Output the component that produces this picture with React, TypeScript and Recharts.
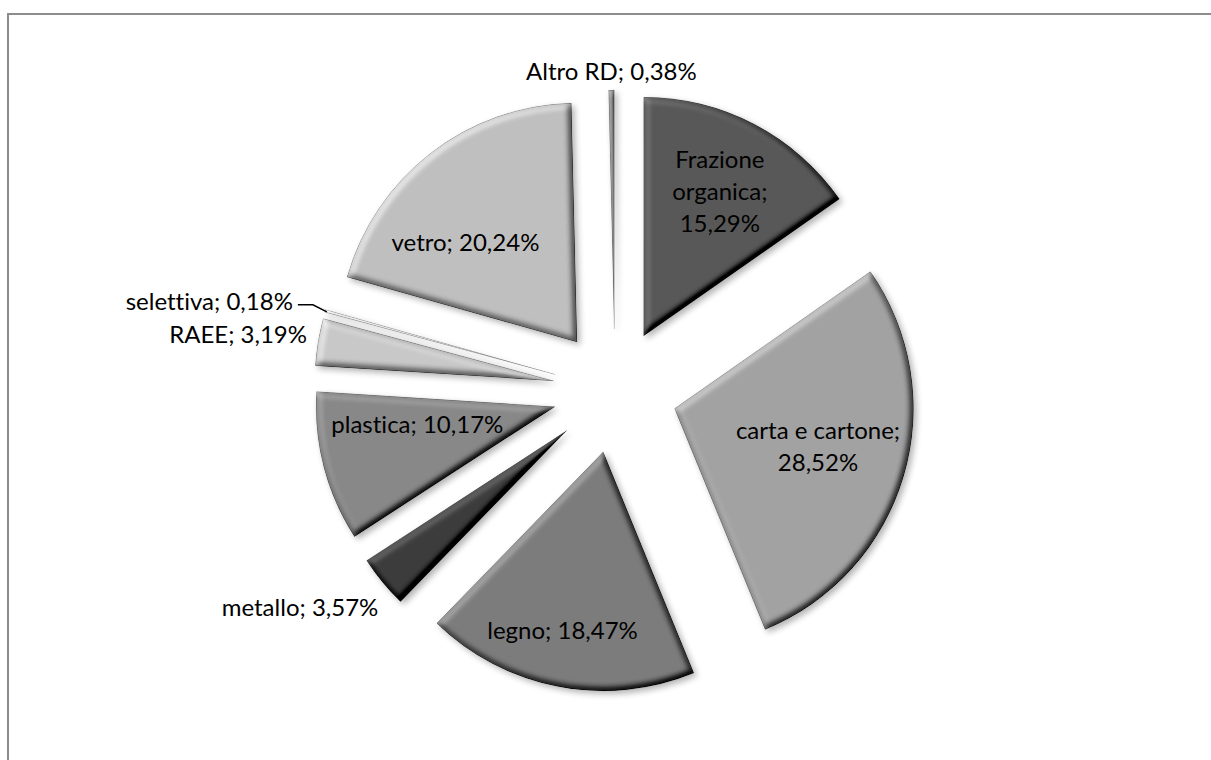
import React from 'react';
import { PieChart, Pie, Cell, Sector } from 'recharts';

// raccolta differenziata, quote per frazione (clockwise from 12 o'clock)
const categories = [
  'Frazione organica',
  'carta e cartone',
  'legno',
  'metallo',
  'plastica',
  'RAEE',
  'selettiva',
  'vetro',
  'Altro RD',
];
const shares = [15.29, 28.52, 18.47, 3.57, 10.17, 3.19, 0.18, 20.24, 0.38];

const data = categories.map((name, i) => ({ name, value: shares[i] }));

const sliceColors = ['#585858', '#a2a2a2', '#7c7c7c', '#3c3c3c', '#888888', '#c8c8c8', '#ededed', '#bfbfbf', '#8e8e8e'];

const EXPLODE = 62;
const RADIAN = Math.PI / 180;
const FONT = 'Lato, "Open Sans", sans-serif';
const FONT_SIZE = 24;
const LINE_H = 32;
const textStyle = { fontVariantLigatures: 'none' } as const;

type Placement =
  | { kind: 'inside'; r: number; turn: number; wrap: 'words' | 'value' | 'none' }
  | { kind: 'outside'; dx: number; dy: number; anchor: 'start' | 'middle' | 'end'; leader?: boolean };

const placements: Record<string, Placement> = {
  'Frazione organica': { kind: 'inside', r: 0.69, turn: 0, wrap: 'words' },
  'carta e cartone': { kind: 'inside', r: 0.62, turn: -2, wrap: 'value' },
  legno: { kind: 'inside', r: 0.76, turn: 2, wrap: 'none' },
  metallo: { kind: 'outside', dx: -4, dy: 24, anchor: 'end' },
  plastica: { kind: 'inside', r: 0.58, turn: 8, wrap: 'none' },
  RAEE: { kind: 'outside', dx: -11, dy: -8, anchor: 'end' },
  selettiva: { kind: 'outside', dx: -32, dy: -10, anchor: 'end', leader: true },
  vetro: { kind: 'inside', r: 0.63, turn: -10, wrap: 'none' },
  'Altro RD': { kind: 'outside', dx: 0, dy: -20, anchor: 'middle' },
};

const fmt = (v: number) => v.toFixed(2).replace('.', ',') + '%';

const offsetOf = (midAngle: number) => ({
  ox: EXPLODE * Math.cos(-midAngle * RADIAN),
  oy: EXPLODE * Math.sin(-midAngle * RADIAN),
});

const ExplodedSector = (props: any) => {
  const { cx, cy, midAngle } = props;
  const { ox, oy } = offsetOf(midAngle);
  return (
    <g filter="url(#bevel)">
      <Sector {...props} cx={cx + ox} cy={cy + oy} />
    </g>
  );
};

const renderLabel = (props: any) => {
  const { cx, cy, midAngle, outerRadius, index } = props;
  const name = categories[index];
  const value = shares[index];
  const p = placements[name];
  const { ox, oy } = offsetOf(midAngle);
  const ax = cx + ox;
  const ay = cy + oy;

  if (p.kind === 'inside') {
    const a = (midAngle - p.turn) * RADIAN;
    const x = ax + p.r * outerRadius * Math.cos(-a);
    const y = ay + p.r * outerRadius * Math.sin(-a);
    let lines: string[];
    if (p.wrap === 'words') lines = [...name.split(' ').map((w, i, arr) => (i === arr.length - 1 ? w + ';' : w)), fmt(value)];
    else if (p.wrap === 'value') lines = [name + ';', fmt(value)];
    else lines = [`${name}; ${fmt(value)}`];
    const y0 = y - ((lines.length - 1) * LINE_H) / 2;
    return (
      <text
        x={x}
        y={y0}
        textAnchor="middle"
        dominantBaseline="central"
        fontFamily={FONT}
        fontSize={FONT_SIZE}
        fill="#000"
        style={textStyle}
      >
        {lines.map((l, i) => (
          <tspan key={i} x={x} y={y0 + i * LINE_H}>
            {l}
          </tspan>
        ))}
      </text>
    );
  }

  const tx = ax + outerRadius * Math.cos(-midAngle * RADIAN);
  const ty = ay + outerRadius * Math.sin(-midAngle * RADIAN);
  return (
    <g>
      {p.leader && (
        <path
          d={`M${tx + 2},${ty + 1} L${tx - 12},${ty - 6} L${tx - 27},${ty - 6}`}
          stroke="#000"
          strokeWidth={1.5}
          fill="none"
        />
      )}
      <text
        x={tx + p.dx}
        y={ty + p.dy}
        textAnchor={p.anchor}
        dominantBaseline="central"
        fontFamily={FONT}
        fontSize={FONT_SIZE}
        fill="#000"
        style={textStyle}
      >
        {`${name}; ${fmt(value)}`}
      </text>
    </g>
  );
};

export default function App() {
  return (
    <div style={{ position: 'absolute', left: 0, top: 0, width: 1211, height: 760, overflow: 'hidden', background: '#fff' }}>
      <div
        style={{
          position: 'absolute',
          left: 7,
          top: 13,
          width: 1300,
          height: 900,
          border: '2px solid #8c8c8c',
          boxSizing: 'border-box',
        }}
      />
      <div style={{ position: 'absolute', left: 0, top: 0 }}>
        <PieChart width={1211} height={760} margin={{ top: 0, right: 0, bottom: 0, left: 0 }}>
          <defs>
            <filter
              id="bevel"
              filterUnits="userSpaceOnUse"
              x="0"
              y="0"
              width="1211"
              height="760"
              colorInterpolationFilters="sRGB"
            >
              <feGaussianBlur in="SourceAlpha" stdDeviation="3.5" result="blur" />
              <feDiffuseLighting in="blur" surfaceScale="5" diffuseConstant="1" lightingColor="#ffffff" result="diff">
                <feDistantLight azimuth={225} elevation={55} />
              </feDiffuseLighting>
              <feComposite in="SourceGraphic" in2="diff" operator="arithmetic" k1={0} k2={1} k3={0.7} k4={-0.573} result="lit" />
              <feComposite in="lit" in2="SourceAlpha" operator="in" result="litIn" />
              <feGaussianBlur in="SourceAlpha" stdDeviation="3" result="sBlur" />
              <feOffset in="sBlur" dx="3" dy="3" result="sOff" />
              <feComponentTransfer in="sOff" result="shadow">
                <feFuncA type="linear" slope="0.3" />
              </feComponentTransfer>
              <feMerge>
                <feMergeNode in="shadow" />
                <feMergeNode in="litIn" />
              </feMerge>
            </filter>
          </defs>
          <Pie
            data={data}
            dataKey="value"
            nameKey="name"
            cx={615}
            cy={391}
            outerRadius={239}
            startAngle={90}
            endAngle={-270}
            stroke="rgba(0,0,0,0.35)"
            strokeWidth={0.8}
            shape={ExplodedSector}
            activeShape={ExplodedSector}
            label={renderLabel}
            labelLine={false}
            isAnimationActive={false}
          >
            {data.map((d, i) => (
              <Cell key={d.name} fill={sliceColors[i]} />
            ))}
          </Pie>
        </PieChart>
      </div>
    </div>
  );
}
